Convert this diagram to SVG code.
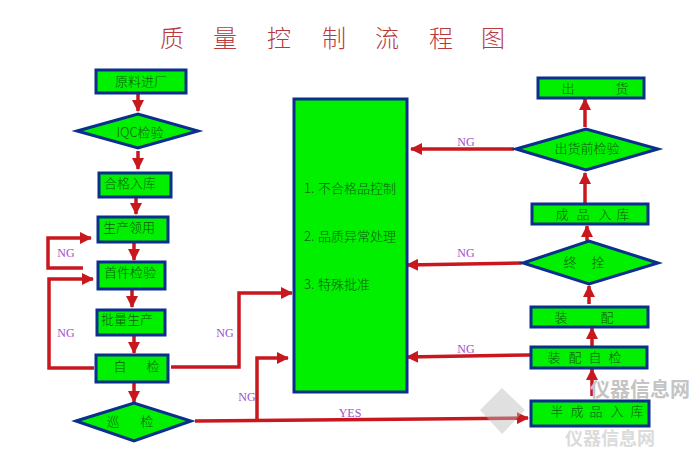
<svg xmlns="http://www.w3.org/2000/svg" width="700" height="454" viewBox="0 0 700 454">
<style>
.n{fill:#00f000;stroke:#0a2f8c;stroke-width:3}
.t{font-family:"Noto Sans CJK SC","Liberation Serif",serif;font-size:13px;fill:#0c5a10;text-anchor:middle;font-weight:300}
.l{font-family:"Noto Sans CJK SC","Liberation Serif",serif;font-size:13px;fill:#0c5a10;font-weight:300}
.ng{font-family:"Liberation Serif",serif;font-size:12px;fill:#a050c8;text-anchor:middle}
.c{fill:none;stroke:#c8181e;stroke-width:3.5}
.title{font-family:"Noto Sans CJK SC",serif;font-size:24px;fill:#b8383c;text-anchor:middle;font-weight:300}
.wm{font-family:"Noto Sans CJK SC",sans-serif;font-weight:700;text-anchor:middle;fill:#c4c4c4}
</style>
<defs>
<marker id="a" markerUnits="userSpaceOnUse" markerWidth="12" markerHeight="12" refX="11" refY="6" orient="auto"><path d="M0 0L12 6L0 12Z" fill="#c8181e"/></marker>
</defs>
<rect width="700" height="454" fill="#fff"/>
<text class="title" x="172 225 279 334 387 441 493" y="47">质量控制流程图</text>
<g id="connectors">
<path class="c" marker-end="url(#a)" d="M138 93V111"/>
<path class="c" marker-end="url(#a)" d="M138 151V169"/>
<path class="c" marker-end="url(#a)" d="M136 197V214"/>
<path class="c" marker-end="url(#a)" d="M134 242V260"/>
<path class="c" marker-end="url(#a)" d="M132 289V307"/>
<path class="c" marker-end="url(#a)" d="M134 336V353"/>
<path class="c" marker-end="url(#a)" d="M134 383V402"/>
<path class="c" marker-end="url(#a)" d="M83 268H48V238H91"/>
<path class="c" marker-end="url(#a)" d="M94 368H49V279H93"/>
<path class="c" marker-end="url(#a)" d="M171 367H239V293H292"/>
<path class="c" marker-end="url(#a)" d="M195 421L528 418"/>
<path class="c" marker-end="url(#a)" d="M257 421V358H288"/>
<path class="c" marker-end="url(#a)" d="M592 396V369"/>
<path class="c" marker-end="url(#a)" d="M592 346V328"/>
<path class="c" marker-end="url(#a)" d="M589 304V286"/>
<path class="c" marker-end="url(#a)" d="M587 241V226"/>
<path class="c" marker-end="url(#a)" d="M585 203V173"/>
<path class="c" marker-end="url(#a)" d="M585 127V99"/>
<path class="c" marker-end="url(#a)" d="M514 149H411"/>
<path class="c" marker-end="url(#a)" d="M522 263L407 265"/>
<path class="c" marker-end="url(#a)" d="M530 355L407 357"/>
</g>
<g id="nodes">
<g id="n1"><rect class="n" x="96" y="70" width="90" height="23"/><text class="t" x="141" y="86">原料进厂</text></g>
<g id="n2"><polygon class="n" points="77,131 138,114 198,131 138,148"/><text class="t" x="140" y="137">IQC检验</text></g>
<g id="n3"><rect class="n" x="99" y="173" width="72" height="24"/><text class="t" x="130" y="188">合格入库</text></g>
<g id="n4"><rect class="n" x="98" y="217" width="70" height="25"/><text class="t" x="129" y="232">生产领用</text></g>
<g id="n5"><rect class="n" x="98" y="262" width="67" height="27"/><text class="t" x="130" y="277">首件检验</text></g>
<g id="n6"><rect class="n" x="97" y="310" width="68" height="25"/><text class="t" x="127" y="324">批量生产</text></g>
<g id="n7"><rect class="n" x="96" y="355" width="72" height="27"/><text class="t" x="120 153" y="371">自检</text></g>
<g id="n8"><polygon class="n" points="76,421 134,403 191,421 134,441"/><text class="t" x="113 147" y="426">巡检</text></g>
<g id="n9"><rect class="n" x="294" y="99" width="113" height="293"/>
<text class="l" y="193"><tspan x="304">1.</tspan><tspan x="318">不合格品控制</tspan></text>
<text class="l" y="241"><tspan x="304">2.</tspan><tspan x="318">品质异常处理</tspan></text>
<text class="l" y="289"><tspan x="304">3.</tspan><tspan x="318">特殊批准</tspan></text></g>
<g id="n10"><rect class="n" x="538" y="78" width="106" height="20"/><text class="t" x="568 622" y="93">出货</text></g>
<g id="n11"><polygon class="n" points="516,149 586,129 658,149 586,170"/><text class="t" x="587" y="153">出货前检验</text></g>
<g id="n12"><rect class="n" x="532" y="204" width="116" height="20"/><text class="t" x="562 583 605 623" y="219">成品入库</text></g>
<g id="n13"><polygon class="n" points="523,263 589,241 658,263 589,284"/><text class="t" x="570 598" y="267">终拴</text></g>
<g id="n14"><rect class="n" x="531" y="307" width="117" height="20"/><text class="t" x="561 607" y="322">装配</text></g>
<g id="n15"><rect class="n" x="531" y="347" width="116" height="21"/><text class="t" x="554 575 595 615" y="362">装配自检</text></g>
<g id="n16"><rect class="n" x="531" y="401" width="118" height="25"/><text class="t" x="557 577 596 617 637" y="416">半成品入库</text></g>
</g>
<g id="labels">
<text class="ng" x="66" y="257">NG</text><text class="ng" x="66" y="337">NG</text><text class="ng" x="225" y="337">NG</text><text class="ng" x="247" y="401">NG</text><text class="ng" x="466" y="146">NG</text><text class="ng" x="466" y="257">NG</text><text class="ng" x="466" y="353">NG</text><text class="ng" x="350" y="417">YES</text>
</g>
<g id="watermark">
<polygon points="502,388 525,410 502,434 480,410" fill="#bbb" opacity=".45"/>
<text class="wm" x="640" y="397" font-size="20">仪器信息网</text>
<text class="wm" x="610" y="445" font-size="18" opacity=".6">仪器信息网</text>
</g>
</svg>
